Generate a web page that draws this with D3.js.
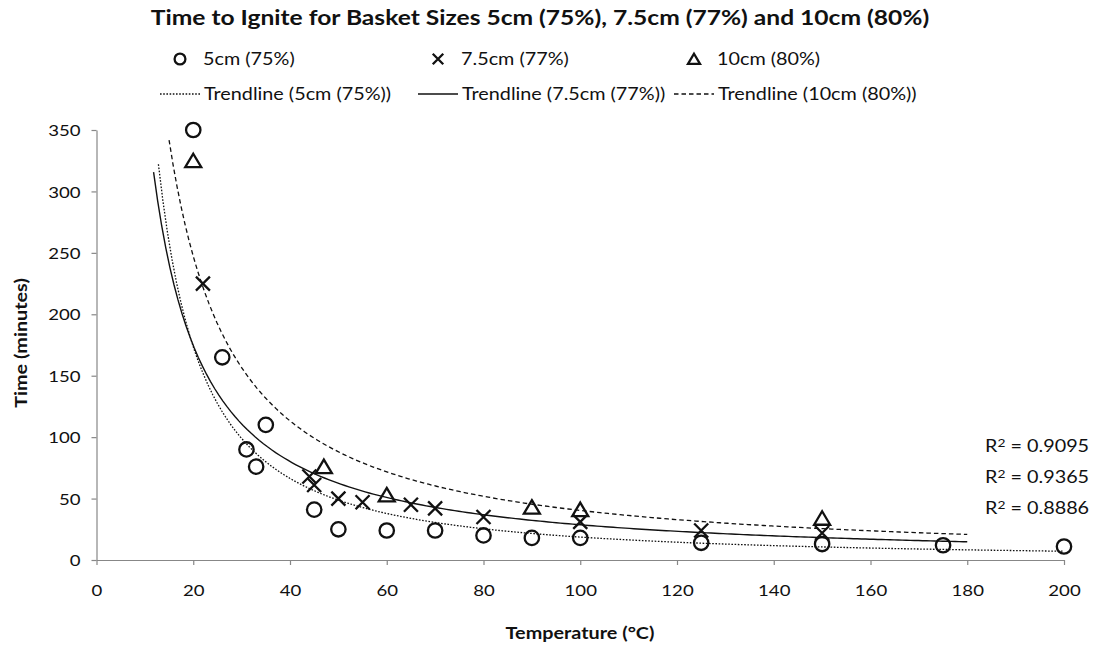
<!DOCTYPE html>
<html>
<head>
<meta charset="utf-8">
<script src="https://cdn.jsdelivr.net/npm/d3@7"></script>
<style>
  html, body { margin: 0; background: #fff; }
  svg { display: block; }
  text { font-family: Lato, "Open Sans", sans-serif; fill: #111; }
</style>
</head>
<body>
<svg id="chart" width="1098" height="647"></svg>
<script>
// ---- data ----
const chartTitle = "Time to Ignite for Basket Sizes 5cm (75%), 7.5cm (77%) and 10cm (80%)";
const xTitle = "Temperature (°C)";
const yTitle = "Time (minutes)";
const seriesNames = ["5cm (75%)", "7.5cm (77%)", "10cm (80%)"];

// 5cm basket, 75% moisture
const temp5cm = [20, 26, 31, 33, 35, 45, 50, 60, 70, 80, 90, 100, 125, 150, 175, 200];
const time5cm = [350, 165, 90, 76, 110, 41, 25, 24, 24, 20, 18, 18, 14, 13, 12, 11];
// 7.5cm basket, 77% moisture
const temp7cm = [22, 44, 45, 50, 55, 65, 70, 80, 100, 125, 150];
const time7cm = [225, 68, 61, 50, 47, 45, 42, 35, 31, 24, 22];
// 10cm basket, 80% moisture
const temp10cm = [20, 47, 60, 90, 100, 150];
const time10cm = [325, 76, 53, 43, 41, 34];

// span of each power trendline (incl. forecast), in °C
const trendFrom = [12.8, 11.8, 15];
const trendTo = [200, 180, 180];
const rSquaredValues = ["0.9095", "0.9365", "0.8886"];

const xTicks = [0, 20, 40, 60, 80, 100, 120, 140, 160, 180, 200];
const yTicks = [0, 50, 100, 150, 200, 250, 300, 350];

// ---- setup ----
const svg = d3.select("#chart");
const SX = 1.2;           // horizontal stretch of the lettering
const axisColor = "#878787";

const x = d3.scaleLinear().domain([0, 200]).range([96.5, 1064]);
const y = d3.scaleLinear().domain([0, 350]).range([560, 130]);

function label(parent, px, py, str, opts = {}) {
  const rot = opts.rotate ? ` rotate(${opts.rotate})` : "";
  return parent.append("text")
    .attr("transform", `translate(${px},${py})${rot} scale(${SX},1)`)
    .attr("text-anchor", opts.anchor || "start")
    .style("font-size", (opts.size || 15) + "px")
    .style("font-weight", opts.bold ? 700 : 400)
    .text(str);
}

// least-squares power fit y = a * x^b (log-log regression)
function powerFit(xs, ys) {
  const lx = xs.map(Math.log), ly = ys.map(Math.log);
  const mx = d3.mean(lx), my = d3.mean(ly);
  const sxy = d3.sum(lx, (v, i) => (v - mx) * (ly[i] - my));
  const sxx = d3.sum(lx, v => (v - mx) ** 2);
  const b = sxy / sxx;
  const a = Math.exp(my - b * mx);
  return t => a * Math.pow(t, b);
}

// marker shapes
const markers = [
  (g, s) => g.append("circle").attr("r", 7.2 * s),
  (g, s) => g.append("path").attr("d", `M${-7 * s},${-7 * s}L${7 * s},${7 * s}M${-7 * s},${7 * s}L${7 * s},${-7 * s}`),
  (g, s) => g.append("path").attr("d", `M0,${-7 * s}L${8 * s},${6.5 * s}L${-8 * s},${6.5 * s}Z`)
];
const dashes = ["1.6,1.6", null, "4.5,3"];
const lineWidths = [1.3, 1.4, 1.3];

const series = [
  { xs: temp5cm, ys: time5cm },
  { xs: temp7cm, ys: time7cm },
  { xs: temp10cm, ys: time10cm }
];

// ---- title ----
label(svg, 540, 25, chartTitle, { anchor: "middle", size: 20.5, bold: true });

// ---- axes ----
const xAxis = svg.append("g").attr("transform", `translate(0,${y(0)})`)
  .call(d3.axisBottom(x).tickValues(xTicks).tickSizeInner(5).tickSizeOuter(0));
const yAxis = svg.append("g").attr("transform", `translate(${x(0)},0)`)
  .call(d3.axisLeft(y).tickValues(yTicks).tickSizeInner(5).tickSizeOuter(0));

[xAxis, yAxis].forEach(ax => {
  ax.select(".domain").attr("stroke", axisColor).attr("stroke-width", 1.2);
  ax.selectAll(".tick line").attr("stroke", axisColor).attr("stroke-width", 1.2);
  ax.selectAll(".tick text")
    .style("font-family", "Lato, 'Open Sans', sans-serif")
    .style("font-size", "15.5px")
    .attr("fill", "#111")
    .attr("transform", `scale(${SX},1)`);
});
xAxis.selectAll(".tick text").attr("y", 36).attr("dy", null);
yAxis.selectAll(".tick text").attr("x", -16 / SX).attr("dy", "0.36em");

label(svg, 580, 639, xTitle, { anchor: "middle", size: 16.5, bold: true });
label(svg, 27, 343, yTitle, { anchor: "middle", size: 16.5, bold: true, rotate: -90 });

// ---- trendlines ----
const plot = svg.append("g");
series.forEach((s, i) => {
  const f = powerFit(s.xs, s.ys);
  const pts = d3.range(0, 201).map(k => trendFrom[i] + (trendTo[i] - trendFrom[i]) * k / 200);
  plot.append("path")
    .datum(pts)
    .attr("fill", "none")
    .attr("stroke", "#111")
    .attr("stroke-width", lineWidths[i])
    .attr("stroke-dasharray", dashes[i])
    .attr("d", d3.line().x(t => x(t)).y(t => y(f(t))));
});

// ---- points ----
series.forEach((s, i) => {
  s.xs.forEach((t, j) => {
    const g = plot.append("g")
      .attr("transform", `translate(${x(t)},${y(s.ys[j])})`)
      .attr("fill", "none").attr("stroke", "#111").attr("stroke-width", 2.3);
    markers[i](g, 1);
  });
});

// ---- R² labels ----
rSquaredValues.forEach((r, i) => {
  const t = svg.append("text")
    .attr("transform", `translate(985,${452 + i * 31}) scale(${SX},1)`)
    .style("font-size", "16.5px");
  t.append("tspan").text("R");
  t.append("tspan").attr("dy", -5.5).style("font-size", "11.5px").text("2");
  t.append("tspan").attr("dy", 5.5).text(` = ${r}`);
});

// ---- legend ----
const legend = svg.append("g");
const colX = [160, 418, 674];
seriesNames.forEach((name, i) => {
  const m = legend.append("g")
    .attr("transform", `translate(${colX[i] + 20},59)`)
    .attr("fill", "none").attr("stroke", "#111").attr("stroke-width", 2.3);
  markers[i](m, 0.75);
  label(legend, colX[i] + 43, 64.5, name, { size: 16.5 });

  legend.append("line")
    .attr("x1", colX[i]).attr("x2", colX[i] + 40)
    .attr("y1", 94).attr("y2", 94)
    .attr("stroke", "#111").attr("stroke-width", lineWidths[i])
    .attr("stroke-dasharray", dashes[i]);
  label(legend, colX[i] + 44, 99.5, `Trendline (${name})`, { size: 16.5 });
});
</script>
</body>
</html>
